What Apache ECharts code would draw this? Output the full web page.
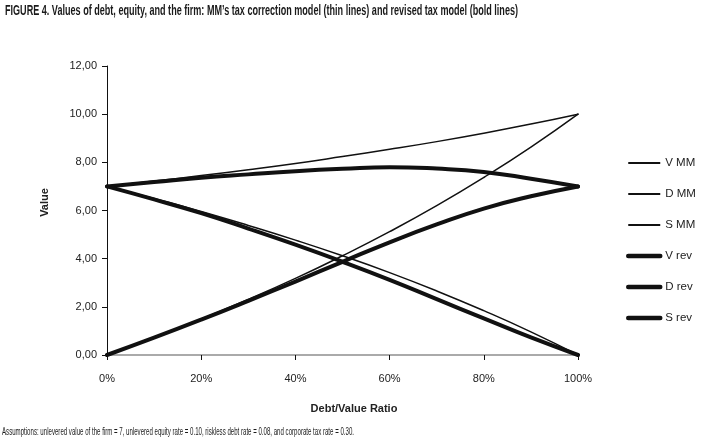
<!DOCTYPE html>
<html>
<head>
<meta charset="utf-8">
<script src="https://cdn.jsdelivr.net/npm/echarts@6/dist/echarts.min.js"></script>
<style>
html,body{margin:0;padding:0;background:#fff;}
#chart{width:706px;height:446px;}
</style>
</head>
<body>
<div id="chart"></div>
<script>
// Debt/Value ratio (%)
const ratios = [0, 10, 20, 30, 40, 50, 60, 70, 80, 90, 100];
// MM's tax correction model (thin lines)
const vMM = [7.00, 7.22, 7.45, 7.69, 7.95, 8.24, 8.54, 8.86, 9.21, 9.59, 10.00];
const dMM = [0.00, 0.72, 1.49, 2.31, 3.18, 4.12, 5.12, 6.20, 7.37, 8.63, 10.00];
const sMM = [7.00, 6.50, 5.96, 5.38, 4.77, 4.12, 3.42, 2.66, 1.84, 0.96, 0.00];
// Revised tax model (bold lines)
const vRev = [7.00, 7.18, 7.36, 7.50, 7.63, 7.73, 7.80, 7.74, 7.60, 7.32, 7.00];
const dRev = [0.00, 0.72, 1.47, 2.25, 3.05, 3.87, 4.68, 5.42, 6.08, 6.59, 7.00];
const sRev = [7.00, 6.46, 5.89, 5.25, 4.58, 3.87, 3.12, 2.32, 1.52, 0.73, 0.00];
const seriesNames = ['V MM', 'D MM', 'S MM', 'V rev', 'D rev', 'S rev'];
const yTicks = [0, 2, 4, 6, 8, 10, 12];
const xTicks = [0, 20, 40, 60, 80, 100];

const titleText = "FIGURE 4. Values of debt, equity, and the firm: MM\u2019s tax correction model (thin lines) and revised tax model (bold lines)";
const noteText = "Assumptions: unlevered value of the firm = 7, unlevered equity rate = 0.10, riskless debt rate = 0.08, and corporate tax rate = 0.30.";

function pairs(arr) { return ratios.map((r, i) => [r, arr[i]]); }
const allData = [vMM, dMM, sMM, vRev, dRev, sRev];

// measure text to condense it to the reference width
const mctx = document.createElement('canvas').getContext('2d');
function measure(text, font) { mctx.font = font; return mctx.measureText(text).width; }
const titleFont = 'bold 14px "Liberation Sans"';
const noteFont = '10px "Liberation Sans"';
const titleScale = 513 / measure(titleText, titleFont);
const noteScale = 352 / measure(noteText, noteFont);

const chart = echarts.init(document.getElementById('chart'), null, {renderer: 'canvas'});
const series = allData.map((arr, i) => {
  const bold = i >= 3;
  return {
    name: seriesNames[i],
    type: 'line',
    data: pairs(arr),
    smooth: true,
    symbol: 'none',
    color: '#111',
    lineStyle: {color: '#111', width: bold ? 4 : 1.5, cap: 'round', join: 'round'},
    z: bold ? 2 : 3
  };
});

const legendData = seriesNames.map((n, i) => ({name: n, lineStyle: {width: i >= 3 ? 4.5 : 2, cap: i >= 3 ? 'round' : 'butt'}}));

chart.setOption({
  animation: false,
  backgroundColor: '#fff',
  graphic: [{
    type: 'text', left: 5, top: 4, scaleX: titleScale, originX: 0,
    style: {text: titleText, font: titleFont, fill: '#1a1a1a'}
  }, {
    type: 'text', left: 2, top: 427, scaleX: noteScale, originX: 0,
    style: {text: noteText, font: noteFont, fill: '#1a1a1a'}
  }],
  legend: {
    orient: 'vertical',
    left: 621, top: 152,
    itemWidth: 32, itemHeight: 14, itemGap: 19,
    data: legendData,
    itemStyle: {opacity: 0},
    textStyle: {fontFamily: 'Liberation Sans', fontSize: 11.5, color: '#222'}
  },
  grid: {left: 107, right: 128, top: 66, bottom: 91, containLabel: false},
  xAxis: {
    type: 'value', min: 0, max: 100, interval: 20,
    name: 'Debt/Value Ratio', nameLocation: 'middle', nameGap: 48,
    nameTextStyle: {fontFamily: 'Liberation Sans', fontWeight: 'bold', fontSize: 11, color: '#222', padding: [0, 0, 0, 23]},
    axisLine: {lineStyle: {color: '#aaa', width: 2}},
    axisTick: {show: true, length: 5, lineStyle: {color: '#111', width: 1}},
    axisLabel: {formatter: v => xTicks.includes(v) ? v + '%' : '', margin: 18, fontFamily: 'Liberation Sans', fontSize: 11, color: '#222'},
    splitLine: {show: false}
  },
  yAxis: {
    type: 'value', min: 0, max: 12, interval: 2,
    name: 'Value', nameLocation: 'middle', nameGap: 57, nameRotate: 90,
    nameTextStyle: {fontFamily: 'Liberation Sans', fontWeight: 'bold', fontSize: 11, color: '#222', padding: [0, 0, 0, 16]},
    axisLine: {show: true, lineStyle: {color: '#111', width: 1}},
    axisTick: {show: true, length: 5, lineStyle: {color: '#111', width: 1}},
    axisLabel: {formatter: v => yTicks.includes(v) ? v.toFixed(2).replace('.', ',') : '', margin: 10, fontFamily: 'Liberation Sans', fontSize: 11, color: '#222'},
    splitLine: {show: false}
  },
  series: series
});
</script>
</body>
</html>
